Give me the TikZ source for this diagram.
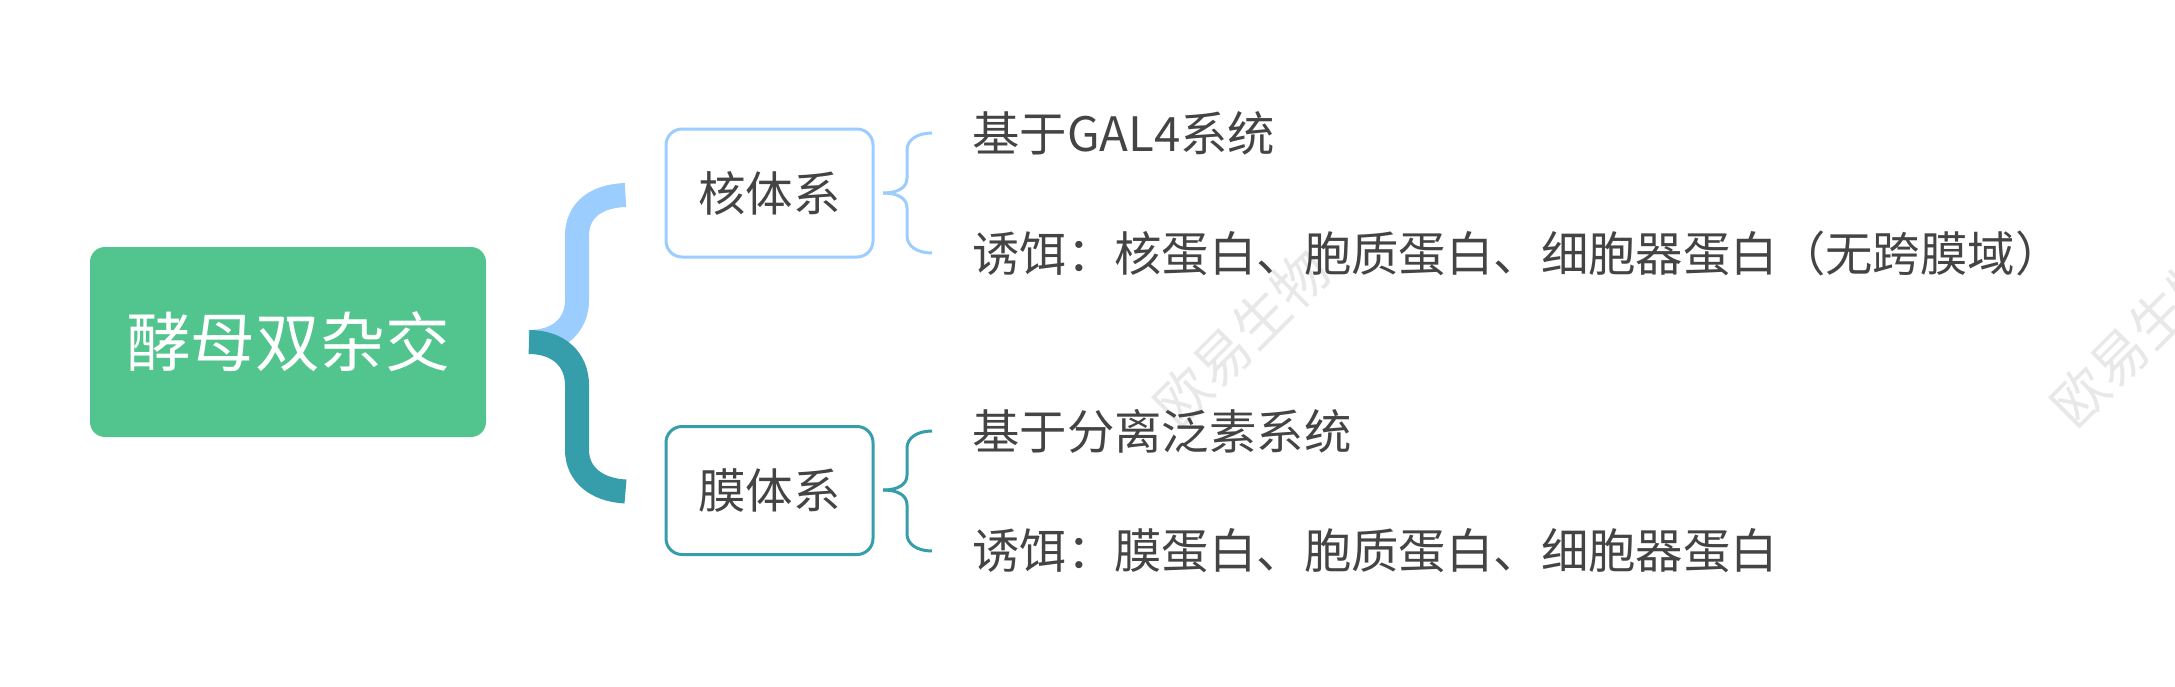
\documentclass[tikz,border=0pt]{standalone}
\usepackage{fontspec}
\setmainfont{Noto Sans CJK SC}
\definecolor{rootgreen}{HTML}{52C48D}
\definecolor{lightblue}{HTML}{9CCDFF}
\definecolor{teal}{HTML}{369DAA}
\definecolor{ink}{HTML}{444444}
\definecolor{wm}{HTML}{E8E8E8}
\tikzset{
  rootbox/.style={fill=rootgreen,rounded corners=15pt,text=white,font=\fontsize{64.7}{64.7}\selectfont,minimum width=396pt,minimum height=190pt,inner sep=0pt,anchor=center},
  subbox/.style={draw=#1,line width=3pt,fill=white,rounded corners=16pt,text=ink,font=\fontsize{47.5}{47.5}\selectfont,minimum width=207pt,minimum height=128pt,inner sep=0pt,anchor=center},
  leaf/.style={text=ink,font=\fontsize{47.4}{47.4}\selectfont,anchor=west,inner sep=0pt},
  thick link/.style={draw=#1,line width=24pt,line cap=butt},
  thin link/.style={draw=#1,line width=3pt,line cap=butt},
  watermark/.style={text=wm,font=\fontsize{55}{55}\selectfont,rotate=45,inner sep=0pt}
}
\begin{document}
\begin{tikzpicture}[x=1pt,y=-1pt]
\useasboundingbox (0,0) rectangle (2175,686);
\clip (0,0) rectangle (2175,686);
\node[watermark] (w1) at (1242,338) {欧易生物};
\node[watermark] (w2) at (2139,338) {欧易生物};
\node[rootbox] (root) at (288,342) {酵母双杂交};
\node[subbox=lightblue] (nuc) at (769.5,193) {核体系};
\node[subbox=teal] (mem) at (769.5,490.5) {膜体系};
\node[leaf] (a1) at (972,133) {基于GAL4系统};
\node[leaf] (a2) at (972,253) {诱饵：核蛋白、胞质蛋白、细胞器蛋白（无跨膜域）};
\node[leaf] (b1) at (972,431) {基于分离泛素系统};
\node[leaf] (b2) at (972,551) {诱饵：膜蛋白、胞质蛋白、细胞器蛋白};
\coordinate (s) at (529,342);
\coordinate (e1) at (625.5,195);
\coordinate (e2) at (625.5,491.5);
\coordinate (p1) at (883,193);
\coordinate (p2) at (883,490);
\coordinate (t1) at (932,133);
\coordinate (t2) at (932,253);
\coordinate (t3) at (932,431);
\coordinate (t4) at (932,551);
\draw[thick link=lightblue] (s) .. controls (559,342) and (577,325) .. (577,300) -- (577,236) .. controls (577,210) and (596,196) .. (e1);
\draw[thick link=teal] (s) .. controls (559,342) and (577,360) .. (577,385) -- (577,450) .. controls (577,474) and (596,490) .. (e2);
\draw[thin link=lightblue] (p1) .. controls (899,193) and (907,187) .. (907,178) -- (907,150) .. controls (907,140) and (917,133) .. (t1);
\draw[thin link=lightblue] (p1) .. controls (899,193) and (907,199) .. (907,208) -- (907,236) .. controls (907,246) and (917,253) .. (t2);
\draw[thin link=teal] (p2) .. controls (899,490) and (907,484) .. (907,475) -- (907,448) .. controls (907,438) and (917,431) .. (t3);
\draw[thin link=teal] (p2) .. controls (899,490) and (907,496) .. (907,505) -- (907,534) .. controls (907,544) and (917,551) .. (t4);
\end{tikzpicture}
\end{document}
